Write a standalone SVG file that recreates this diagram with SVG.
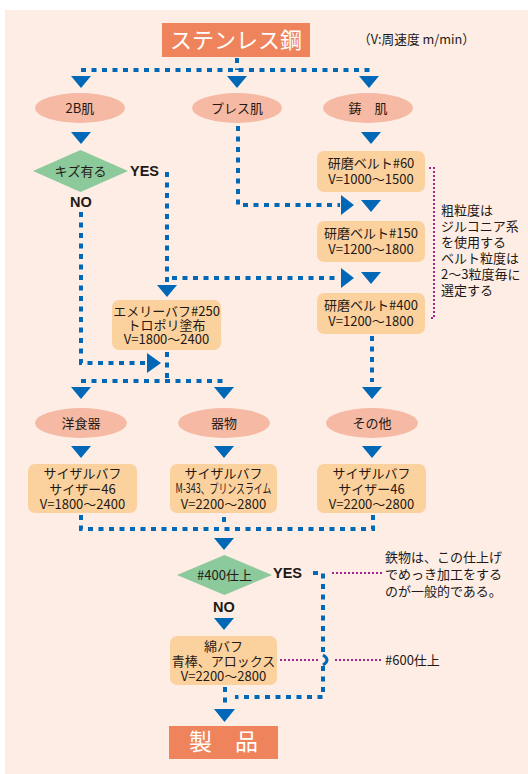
<svg xmlns="http://www.w3.org/2000/svg" width="528" height="774" viewBox="0 0 528 774">
<defs>
<style>
.t{font-family:"Noto Sans CJK JP","Noto Sans",sans-serif;fill:#231815;font-size:13px;text-anchor:middle}
.n{font-family:"Noto Sans CJK JP","Noto Sans",sans-serif;fill:#231815;font-size:13px}
.yn{font-family:"Liberation Sans",Arial,sans-serif;font-weight:bold;fill:#231815;font-size:14.5px}
.w{font-family:"Noto Sans CJK JP",sans-serif;fill:#ffffff;text-anchor:middle}
.dl{fill:none;stroke:#0068b7;stroke-width:4;stroke-dasharray:5 5.5}
.pl{fill:none;stroke:#a0288e;stroke-width:2;stroke-dasharray:2 2}
.ar{fill:#0068b7}
.el{fill:#f5b9a4}
.bx{fill:#fbd19e}
.dm{fill:#8cc99b}
.hd{fill:#ef845c}
</style>
</defs>
<rect x="5" y="10" width="523" height="764" fill="#fdede5"/>

<g id="connectors">
<path class="dl" d="M237 58 V70"/>
<path class="dl" d="M81 70 H372"/>
<path class="dl" d="M238 126 V205 H340"/>
<path class="dl" d="M167 172 V285"/>
<path class="dl" d="M172 278 H340"/>
<path class="dl" d="M81 212 V363 H146"/>
<path class="dl" d="M167 352 V381"/>
<path class="dl" d="M81 381 H224"/>
<path class="dl" d="M372 336 V382"/>
<path class="dl" d="M81 515 V529 H373 V515"/>
<path class="dl" d="M224 517 V523"/>
<path class="dl" d="M313 573 H323 V655"/>
<path d="M323 655 Q331 660 323 665" fill="none" stroke="#0068b7" stroke-width="3"/>
<path class="dl" d="M323 666 V697 H235"/>
<path class="dl" d="M225 687 V705"/>
<path class="pl" d="M429 168 H434 V318 H429"/>
<path class="pl" d="M332 573 H383"/>
<path class="pl" d="M280 660 H318"/>
<path class="pl" d="M335 660 H383"/>
<polygon class="ar" points="71,76 91,76 81,88"/>
<polygon class="ar" points="227,76 247,76 237,88"/>
<polygon class="ar" points="359,76 379,76 369,88"/>
<polygon class="ar" points="71,132 91,132 81,144"/>
<polygon class="ar" points="361,132 381,132 371,144"/>
<polygon class="ar" points="361,200 381,200 371,212"/>
<polygon class="ar" points="361,272 381,272 371,284"/>
<polygon class="ar" points="157,285 177,285 167,297"/>
<polygon class="ar" points="71,387 91,387 81,399"/>
<polygon class="ar" points="214,387 234,387 224,399"/>
<polygon class="ar" points="362,387 382,387 372,399"/>
<polygon class="ar" points="71,446 91,446 81,458"/>
<polygon class="ar" points="214,446 234,446 224,458"/>
<polygon class="ar" points="362,446 382,446 372,458"/>
<polygon class="ar" points="214,538 234,538 224,550"/>
<polygon class="ar" points="214,618 234,618 224,630"/>
<polygon class="ar" points="214,709 235,709 224.5,722"/>
<polygon class="ar" points="341,195 354,205 341,215"/>
<polygon class="ar" points="341,268 354,278 341,288"/>
<polygon class="ar" points="147,353 161,363 147,373"/>
</g>

<g id="title">
<rect class="hd" x="162" y="23" width="148" height="34"/>
<text class="w" x="236" y="48" font-size="22">ステンレス鋼</text>
</g>
<g id="unit-note">
<text class="n" x="358" y="44" font-size="12" textLength="117" lengthAdjust="spacingAndGlyphs">（V:周速度 m/min）</text>
</g>

<g id="n-2b">
<ellipse class="el" cx="80" cy="108" rx="45" ry="15"/>
<text class="t" x="80" y="113">2B肌</text>
</g>
<g id="n-press">
<ellipse class="el" cx="237" cy="108" rx="45" ry="15"/>
<text class="t" x="237" y="113">プレス肌</text>
</g>
<g id="n-cast">
<ellipse class="el" cx="368" cy="108" rx="45" ry="15"/>
<text class="t" x="368" y="113">鋳　肌</text>
</g>

<g id="d-kizu">
<polygon class="dm" points="33,171 80.5,150 128,171 80.5,192"/>
<text class="t" x="80.5" y="176">キズ有る</text>
<text class="yn" x="130" y="176">YES</text>
<text class="yn" x="70" y="207">NO</text>
</g>

<g id="b-60">
<rect class="bx" x="317" y="151" width="108" height="41" rx="7"/>
<text class="t" x="371" y="168">研磨ベルト#60</text>
<text class="t" x="371" y="184">V=1000～1500</text>
</g>
<g id="b-150">
<rect class="bx" x="317" y="221" width="108" height="41" rx="7"/>
<text class="t" x="371" y="238">研磨ベルト#150</text>
<text class="t" x="371" y="254">V=1200～1800</text>
</g>
<g id="b-400">
<rect class="bx" x="317" y="293" width="108" height="41" rx="7"/>
<text class="t" x="371" y="310">研磨ベルト#400</text>
<text class="t" x="371" y="326">V=1200～1800</text>
</g>
<g id="belt-note">
<text class="n" x="441" y="215">粗粒度は</text>
<text class="n" x="441" y="231">ジルコニア系</text>
<text class="n" x="441" y="247">を使用する</text>
<text class="n" x="441" y="263">ベルト粒度は</text>
<text class="n" x="441" y="279">2～3粒度毎に</text>
<text class="n" x="441" y="295">選定する</text>
</g>

<g id="b-emery">
<rect class="bx" x="112" y="300" width="109" height="50" rx="7"/>
<text class="t" x="166.5" y="316" font-size="12.5">エメリーバフ#250</text>
<text class="t" x="166.5" y="330" font-size="12.5">トロポリ塗布</text>
<text class="t" x="166.5" y="344" font-size="12.5">V=1800～2400</text>
</g>

<g id="n-western">
<ellipse class="el" cx="81" cy="423" rx="46" ry="15"/>
<text class="t" x="81" y="428">洋食器</text>
</g>
<g id="n-vessel">
<ellipse class="el" cx="224" cy="423" rx="46" ry="15"/>
<text class="t" x="224" y="428">器物</text>
</g>
<g id="n-other">
<ellipse class="el" cx="372" cy="423" rx="46" ry="15"/>
<text class="t" x="372" y="428">その他</text>
</g>

<g id="b-s1">
<rect class="bx" x="28" y="464" width="109" height="49" rx="7"/>
<text class="t" x="82.5" y="478">サイザルバフ</text>
<text class="t" x="82.5" y="493.5">サイザー46</text>
<text class="t" x="82.5" y="509">V=1800～2400</text>
</g>
<g id="b-s2">
<rect class="bx" x="170" y="464" width="107" height="49" rx="7"/>
<text class="t" x="223.5" y="478">サイザルバフ</text>
<text class="t" x="223.5" y="493" font-size="12" textLength="96" lengthAdjust="spacingAndGlyphs">M-343、プリンスライム</text>
<text class="t" x="223.5" y="509">V=2200～2800</text>
</g>
<g id="b-s3">
<rect class="bx" x="317" y="464" width="109" height="49" rx="7"/>
<text class="t" x="371.5" y="478">サイザルバフ</text>
<text class="t" x="371.5" y="493.5">サイザー46</text>
<text class="t" x="371.5" y="509">V=2200～2800</text>
</g>

<g id="d-400">
<polygon class="dm" points="177,575 224.5,555 272,575 224.5,595"/>
<text class="t" x="224.5" y="580">#400仕上</text>
<text class="yn" x="273" y="578">YES</text>
<text class="yn" x="213" y="612">NO</text>
</g>
<g id="iron-note">
<text class="n" x="385" y="562">鉄物は、この仕上げ</text>
<text class="n" x="385" y="579">でめっき加工をする</text>
<text class="n" x="385" y="596">のが一般的である。</text>
</g>

<g id="b-cotton">
<rect class="bx" x="170" y="636" width="107" height="49" rx="7"/>
<text class="t" x="223.5" y="651">綿バフ</text>
<text class="t" x="223.5" y="666">青棒、アロックス</text>
<text class="t" x="223.5" y="681">V=2200～2800</text>
</g>
<g id="n-600">
<text class="n" x="385" y="665">#600仕上</text>
</g>

<g id="product">
<rect class="hd" x="169" y="726" width="109" height="33"/>
<text class="w" x="223.5" y="750" font-size="23">製　品</text>
</g>
</svg>
